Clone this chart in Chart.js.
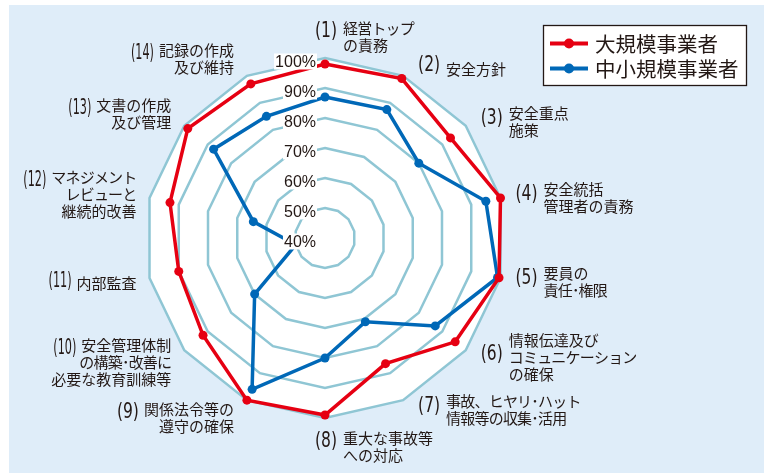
<!DOCTYPE html>
<html lang="ja">
<head>
<meta charset="utf-8">
<title>安全管理の取組状況</title>
<script src="https://cdn.jsdelivr.net/npm/chart.js@4.4.1/dist/chart.umd.min.js"></script>
<style>
  html, body { margin: 0; padding: 0; background: #fff; }
  #wrap { width: 764px; height: 475px; }
</style>
</head>
<body>
<div id="wrap"><canvas id="radar" width="764" height="475"></canvas></div>
<script>
// 14 evaluation items (each entry = lines of the label)
const categories = [
  ['経営トップ', 'の責務'],
  ['安全方針'],
  ['安全重点', '施策'],
  ['安全統括', '管理者の責務'],
  ['要員の', '責任･権限'],
  ['情報伝達及び', 'コミュニケーション', 'の確保'],
  ['事故、ヒヤリ･ハット', '情報等の収集･活用'],
  ['重大な事故等', 'への対応'],
  ['関係法令等の', '遵守の確保'],
  ['安全管理体制', 'の構築･改善に', '必要な教育訓練等'],
  ['内部監査'],
  ['マネジメント', 'レビューと', '継続的改善'],
  ['文書の作成', '及び管理'],
  ['記録の作成', '及び維持']
];

const seriesNames = ['大規模事業者', '中小規模事業者'];

// percentages per item
const largeOperators = [98, 99, 93.5, 100, 99.5, 95.5, 86.5, 99, 100, 92, 90, 93, 98.5, 97];
const smallOperators = [87, 87.5, 80, 95, 99, 87, 71, 80, 96, 70, 50, 64.5, 87.5, 85];

// radial axis range and step (tick labels 40%..100%)
const axisMin = 40;
const axisMax = 100;
const axisStep = 10;

const RED = '#e60012';
const BLUE = '#0068b7';
const GRID = '#8fc6d4';
const INK = '#231815';
const PANEL = '#dfedf9';

const JP_FONT = '"Noto Sans CJK JP", "Noto Sans", sans-serif';
const NUM_FONT = '22px "Liberation Sans Narrow", "DejaVu Sans Condensed", "Liberation Sans", sans-serif';
const LINE_H = 17;
const KANA = /[\u30A0-\u30FF\uFF65-\uFF9F]/;

// light blue panel behind everything
const panelBackground = {
  id: 'panelBackground',
  beforeDraw(chart) {
    const { ctx, width, height } = chart;
    ctx.save();
    ctx.fillStyle = '#fff';
    ctx.fillRect(0, 0, width, height);
    ctx.fillStyle = PANEL;
    ctx.fillRect(9, 5, width - 9, height - 7);
    ctx.restore();
  }
};

// percentage labels stacked left of the vertical axis, on a white backdrop
const percentTicks = {
  id: 'percentTicks',
  afterDatasetsDraw(chart) {
    const r = chart.scales.r;
    const ctx = chart.ctx;
    ctx.save();
    ctx.font = '16px "Liberation Sans", Arial, sans-serif';
    ctx.textAlign = 'right';
    ctx.textBaseline = 'alphabetic';
    r.ticks.forEach(t => {
      const d = r.getDistanceFromCenterForValue(t.value);
      const x = r.xCenter - 9;
      const y = r.yCenter - d + 8.5;
      const text = t.value + '%';
      const w = ctx.measureText(text).width;
      ctx.fillStyle = '#fff';
      ctx.fillRect(x - w - 1, y - 13, w + 2, 16);
      ctx.fillStyle = INK;
      ctx.fillText(text, x, y);
    });
    ctx.restore();
  }
};

// kana runs are set a little tighter than kanji
function setLineFont(ctx, line) {
  ctx.font = '15px ' + JP_FONT;
  ctx.letterSpacing = KANA.test(line) ? '-0.8px' : '0px';
}

// numbered, multi-line item labels around the polygon
const itemLabels = {
  id: 'itemLabels',
  afterDatasetsDraw(chart) {
    const r = chart.scales.r;
    const ctx = chart.ctx;
    ctx.save();
    ctx.fillStyle = INK;
    ctx.textBaseline = 'middle';
    chart.data.labels.forEach((lines, i) => {
      const v = r.getPointPosition(i, r.drawingArea);
      const a = r.getIndexAngle(i);
      const s = Math.sin(a), c = Math.cos(a);
      const n = lines.length;
      const h = n * LINE_H;

      setLineFont(ctx, lines[0]);
      const w0 = ctx.measureText(lines[0]).width;

      const num = '(' + (i + 1) + ')';
      ctx.letterSpacing = '0px';
      ctx.font = NUM_FONT;
      const rawW = ctx.measureText(num).width;
      const sx = Math.min(1, (i + 1 >= 10 ? 23 : 22) / rawW);
      const nw = rawW * sx;

      let top, textX, align, numX, numY;
      if (Math.abs(s) < 1e-6) {
        // straight up / straight down
        numX = v.x + 1 - nw / 2;
        textX = numX + nw + 6;
        align = 'left';
        top = c > 0 ? v.y - 4 - h : v.y + 12;
        numY = top + LINE_H * 0.75;
      } else if (s > 0) {
        // right half: number first, text left-aligned
        numX = v.x + 15;
        textX = numX + nw + 6;
        align = 'left';
        top = v.y + 1.5 - 9.4 * c - h / 2;
        numY = top + h / 2 - 2;
      } else {
        // left half: text right-aligned, number before the first line
        textX = v.x - 13;
        align = 'right';
        numX = textX - w0 - 5 - nw;
        top = v.y + 0.5 - 19.25 * c - h / 2;
        numY = top + LINE_H / 2 + (n > 1 ? LINE_H / 4 : 0);
      }

      ctx.save();
      ctx.font = NUM_FONT;
      ctx.textAlign = 'left';
      ctx.translate(numX, numY - 1.5);
      ctx.scale(sx, 1);
      ctx.fillText(num, 0, 0);
      ctx.restore();

      ctx.textAlign = align;
      lines.forEach((line, k) => {
        setLineFont(ctx, line);
        ctx.fillText(line, textX, top + LINE_H / 2 + k * LINE_H);
      });
      ctx.letterSpacing = '0px';
    });
    ctx.restore();
  }
};

// boxed legend in the upper right
const boxedLegend = {
  id: 'boxedLegend',
  afterDraw(chart) {
    const ctx = chart.ctx;
    const bw = 203, bh = 60;
    const bx = chart.width - 221, by = 25;
    ctx.save();
    ctx.fillStyle = '#fff';
    ctx.fillRect(bx, by, bw, bh);
    ctx.strokeStyle = INK;
    ctx.lineWidth = 1.3;
    ctx.strokeRect(bx + 0.5, by + 0.5, bw, bh);
    chart.data.datasets.forEach((ds, k) => {
      const y = by + 18.5 + k * 25;
      ctx.strokeStyle = ds.borderColor;
      ctx.lineWidth = 4;
      ctx.beginPath();
      ctx.moveTo(bx + 7, y);
      ctx.lineTo(bx + 45, y);
      ctx.stroke();
      ctx.fillStyle = ds.borderColor;
      ctx.beginPath();
      ctx.arc(bx + 26, y, 5, 0, Math.PI * 2);
      ctx.fill();
      ctx.fillStyle = INK;
      ctx.font = '20.5px ' + JP_FONT;
      ctx.textAlign = 'left';
      ctx.textBaseline = 'middle';
      ctx.fillText(ds.label, bx + 52, y + 0.5);
    });
    ctx.restore();
  }
};

function series(label, data, color) {
  return {
    label,
    data,
    borderColor: color,
    backgroundColor: color,
    pointBackgroundColor: color,
    pointBorderColor: color,
    pointBorderWidth: 0,
    pointRadius: 4.5,
    borderWidth: 3.5,
    fill: false,
    tension: 0
  };
}

new Chart(document.getElementById('radar'), {
  type: 'radar',
  data: {
    labels: categories,
    datasets: [
      series(seriesNames[0], largeOperators, RED),
      series(seriesNames[1], smallOperators, BLUE)
    ]
  },
  options: {
    responsive: false,
    animation: false,
    devicePixelRatio: 1,
    layout: { padding: { left: 145, right: 259, top: 58, bottom: 57 } },
    plugins: {
      legend: { display: false },
      tooltip: { enabled: false }
    },
    scales: {
      r: {
        min: axisMin,
        max: axisMax,
        startAngle: 0,
        backgroundColor: '#fff',
        ticks: { stepSize: axisStep, display: false },
        pointLabels: { display: false },
        angleLines: { display: false },
        grid: { color: GRID, lineWidth: 2.5, circular: false }
      }
    }
  },
  plugins: [panelBackground, percentTicks, itemLabels, boxedLegend]
});
</script>
</body>
</html>
